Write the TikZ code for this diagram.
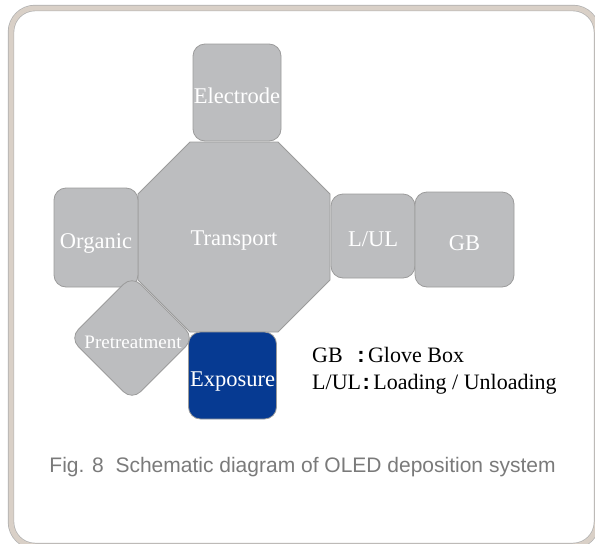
\documentclass[tikz,border=0pt]{standalone}
\usepackage{fontspec}
\setmainfont{Liberation Serif}
\setsansfont{Liberation Sans}
\definecolor{chambergray}{HTML}{BCBDBF}
\definecolor{edgegray}{HTML}{9B9B9B}
\definecolor{exposeblue}{HTML}{063A92}
\definecolor{framebeige}{HTML}{D9D0C7}
\definecolor{captiongray}{HTML}{7A7A7A}
\newcommand{\colonmark}{\hspace{1.5pt}{\sffamily\bfseries :}\hspace{3.5pt}}

\begin{document}
\begin{tikzpicture}[x=1pt, y=-1pt,
    chamberfill/.style={draw=edgegray, fill=chambergray, line width=0.8pt},
    chamber/.style={chamberfill, rounded corners=12pt, text=white, inner sep=0pt,
      font=\fontsize{22.5}{22.5}\selectfont, text height=21pt, text depth=0pt},
    legendtext/.style={anchor=base west, inner sep=0pt, font=\fontsize{22}{22}\selectfont}]
  \useasboundingbox (0,0) rectangle (595,544);

  % Frame
  \draw[draw=edgegray!80, line width=0.7pt, double=framebeige, double distance=5pt,
    rounded corners=24pt] (11,8) rectangle (597,546);

  % Transport chamber
  \draw[chamberfill] (190,142) -- (278,142) -- (330,194) -- (330,280) -- (278,332)
    -- (190,332) -- (138,280) -- (138,194) -- cycle;
  \node[text=white, font=\fontsize{22.5}{22.5}\selectfont, text height=21pt, text depth=0pt,
    inner sep=0pt] (transport) at (234,235) {Transport};

  % Chambers round it
  \node[chamber, minimum width=88pt, minimum height=97pt] (electrode) at (237,92.5) {Electrode};
  \node[chamber, minimum width=84pt, minimum height=99pt] (organic) at (96,237.5) {Organic};
  \node[chamber, minimum width=84pt, minimum height=84pt] (loadunload) at (373,236) {L/UL};
  \node[chamber, minimum width=99pt, minimum height=95pt] (glovebox) at (464.5,239.5) {GB};
  \node[chamber, fill=exposeblue, minimum width=88pt, minimum height=87pt] (exposure) at (232.5,375.5) {Exposure};

  % Pretreatment (turned by 45 degrees)
  \node[chamber, rotate=45, minimum size=88pt] (pretreat) at (132,338) {};
  \node[text=white, font=\fontsize{19}{19}\selectfont, inner sep=0pt] (pretreatlabel) at (133,342) {Pretreatment};

  % Legend
  \node[legendtext] (legendgb) at (312,362) {GB\hspace{13pt}\colonmark Glove Box};
  \node[legendtext] (legendlul) at (312,389) {L/UL\colonmark Loading / Unloading};

  % Caption
  \node[text=captiongray, font=\sffamily\fontsize{21}{21}\selectfont] (caption) at (302.5,467)
    {Fig. 8\ \ Schematic diagram of OLED deposition system};
\end{tikzpicture}
\end{document}
